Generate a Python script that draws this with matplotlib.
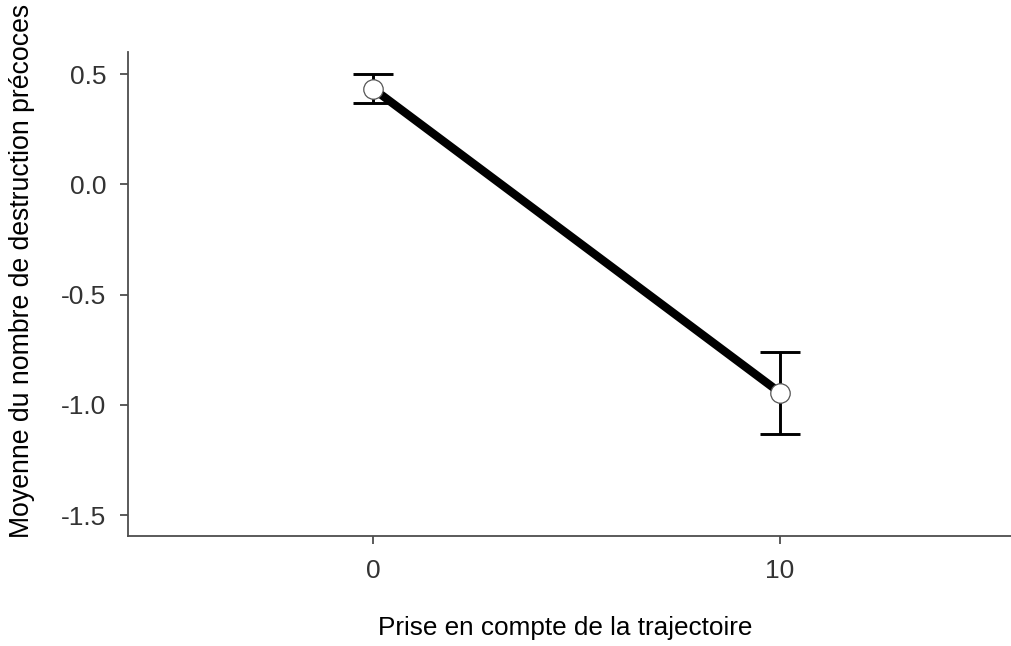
import matplotlib
matplotlib.use("Agg")
import matplotlib.pyplot as plt

# data
x_levels = [0, 10]
x_labels = ["0", "10"]
means = [0.434, -0.945]
se = [0.066, 0.186]
y_ticks = [0.5, 0.0, -0.5, -1.0, -1.5]
y_ticklabels = ["0.5", "0.0", "-0.5", "-1.0", "-1.5"]

plt.rcParams['font.family'] = ['Liberation Sans', 'DejaVu Sans']

W, H = 1012, 646
fig = plt.figure(figsize=(W / 100, H / 100), dpi=100)
ax = fig.add_axes([128 / W, 1 - 536 / H, (W - 128) / W, (536 - 52) / H])

ax.plot(x_levels, means, color='black', linewidth=6, solid_capstyle='butt', zorder=2)
ax.errorbar(x_levels, means, yerr=se, fmt='none', ecolor='black',
            elinewidth=2.1, capsize=14.5, capthick=2.1, zorder=3)
ax.plot(x_levels, means, linestyle='none', marker='o', markersize=14,
        markerfacecolor='white', markeredgecolor='#555555', markeredgewidth=0.9, zorder=4)

ax.set_xlim(-6.02, 15.7)
ax.set_ylim(-1.595, 0.6)
ax.set_xticks(x_levels)
ax.set_xticklabels(x_labels)
ax.set_yticks(y_ticks)
ax.set_yticklabels(y_ticklabels)

for side in ['top', 'right']:
    ax.spines[side].set_visible(False)
for side in ['left', 'bottom']:
    ax.spines[side].set_color('#4d4d4d')
    ax.spines[side].set_linewidth(1.3)

ax.tick_params(axis='both', colors='#4d4d4d', length=5.5, width=1.3,
               labelsize=19, labelcolor='#333333')
ax.tick_params(axis='y', pad=10)
ax.tick_params(axis='x', pad=11)

fig.text(565 / W, 1 - 628 / H, "Prise en compte de la trajectoire",
         ha='center', va='center', fontsize=18.8, color='black')
fig.text(22 / W, 1 - 271 / H, "Moyenne du nombre de destruction précoces",
         ha='center', va='center', rotation=90, fontsize=19.2, color='black')

fig.savefig("out.png", dpi=100, facecolor='white')
